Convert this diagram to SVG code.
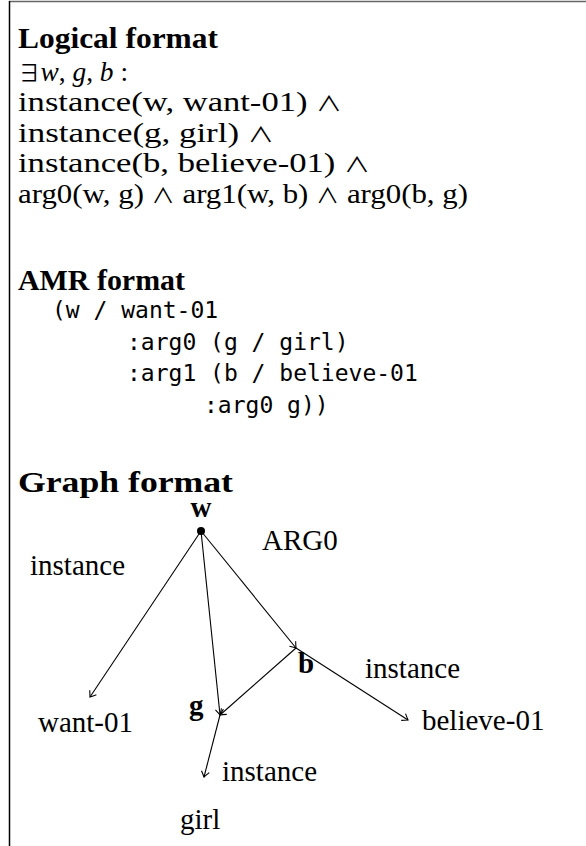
<svg xmlns="http://www.w3.org/2000/svg" width="586" height="846" viewBox="0 0 586 846">
<defs>
<style>
.h{font-family:"Liberation Serif",serif;font-weight:bold;font-size:30px;fill:#000}
.t{font-family:"Liberation Serif",serif;font-size:28px;fill:#000}
.g{font-family:"Liberation Serif",serif;font-size:29px;fill:#000}
.n{font-family:"Liberation Serif",serif;font-weight:bold;font-size:29px;fill:#000}
.m{font-family:"DejaVu Sans Mono",monospace;font-size:23px;fill:#000}
.op{font-family:"Noto Sans CJK JP","Liberation Serif",sans-serif;font-weight:normal;font-size:21px}
.ex{font-family:"Noto Sans CJK JP","Liberation Serif",sans-serif;font-weight:normal;font-size:23px}
.e{stroke:#000;stroke-width:1.1;fill:none}
</style>
<marker id="ah" markerUnits="userSpaceOnUse" markerWidth="12" markerHeight="12" viewBox="-7 -6 8 12" refX="0" refY="0" orient="auto">
<path d="M-5.5,-4 Q-1.5,-1 0,0 Q-1.5,1 -5.5,4" stroke="#000" stroke-width="1.1" fill="none"/>
</marker>
</defs>
<rect width="586" height="846" fill="#fff"/>
<g id="frame">
<line x1="9" y1="1.5" x2="586" y2="1.5" stroke="#666" stroke-width="1.5"/>
<line x1="9.5" y1="1" x2="9.5" y2="846" stroke="#000" stroke-width="1.5"/>
</g>
<g id="logical">
<text class="h" x="18" y="48" textLength="200" lengthAdjust="spacingAndGlyphs">Logical format</text>
<text class="t" x="18" y="81" textLength="110" lengthAdjust="spacingAndGlyphs"><tspan class="ex">∃</tspan><tspan font-style="italic">w</tspan>, <tspan font-style="italic">g</tspan>, <tspan font-style="italic">b</tspan> :</text>
<text class="t" x="18" y="111" textLength="324" lengthAdjust="spacingAndGlyphs">instance(w, want-01) <tspan class="op">∧</tspan></text>
<text class="t" x="18" y="142" textLength="256" lengthAdjust="spacingAndGlyphs">instance(g, girl) <tspan class="op">∧</tspan></text>
<text class="t" x="18" y="172" textLength="352" lengthAdjust="spacingAndGlyphs">instance(b, believe-01) <tspan class="op">∧</tspan></text>
<text class="t" x="18" y="203" textLength="450" lengthAdjust="spacingAndGlyphs">arg0(w, g) <tspan class="op">∧</tspan> arg1(w, b) <tspan class="op">∧</tspan> arg0(b, g)</text>
</g>
<g id="amr">
<text class="h" x="18" y="290" textLength="167" lengthAdjust="spacingAndGlyphs">AMR format</text>
<text class="m" x="52" y="318">(w / want-01</text>
<text class="m" x="127" y="350">:arg0 (g / girl)</text>
<text class="m" x="127" y="381">:arg1 (b / believe-01</text>
<text class="m" x="204" y="413">:arg0 g))</text>
</g>
<g id="graph-title">
<text class="h" x="18" y="492" textLength="215" lengthAdjust="spacingAndGlyphs">Graph format</text>
</g>
<g id="connectors">
<line class="e" x1="201" y1="531" x2="90" y2="697" marker-end="url(#ah)"/>
<line class="e" x1="201" y1="531" x2="220" y2="715" marker-end="url(#ah)"/>
<line class="e" x1="201" y1="531" x2="296" y2="648" marker-end="url(#ah)"/>
<line class="e" x1="296" y1="648" x2="408" y2="720" marker-end="url(#ah)"/>
<line class="e" x1="296" y1="648" x2="220" y2="715" marker-end="url(#ah)"/>
<line class="e" x1="220" y1="715" x2="204" y2="777" marker-end="url(#ah)"/>
</g>
<g id="node-w">
<circle cx="201" cy="531" r="4" fill="#000"/>
<text class="n" x="201" y="517" text-anchor="middle">w</text>
</g>
<g id="node-b">
<text class="n" x="298" y="673">b</text>
</g>
<g id="node-g">
<text class="n" x="189" y="715">g</text>
</g>
<g id="node-want">
<text class="g" x="38" y="732">want-01</text>
</g>
<g id="node-believe">
<text class="g" x="422" y="730">believe-01</text>
</g>
<g id="node-girl">
<text class="g" x="180" y="829">girl</text>
</g>
<g id="edge-labels">
<text class="g" x="30" y="575">instance</text>
<text class="g" x="262" y="550">ARG0</text>
<text class="g" x="365" y="678">instance</text>
<text class="g" x="222" y="781">instance</text>
</g>
</svg>
